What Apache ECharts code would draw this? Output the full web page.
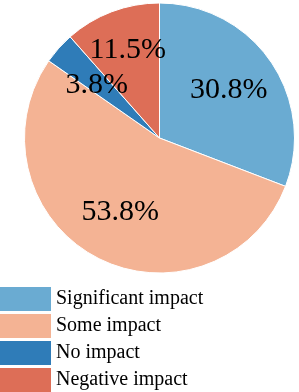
<!DOCTYPE html>
<html><head><meta charset="utf-8">
<script src="https://cdn.jsdelivr.net/npm/echarts@6/dist/echarts.min.js"></script>
<style>html,body{margin:0;padding:0;background:#fff}#c{width:299px;height:392px}</style>
</head><body><div id="c"></div>
<script>
const categories = ['Significant impact', 'Some impact', 'No impact', 'Negative impact'];
const percentages = [30.8, 53.8, 3.8, 11.5];
const colors = ['#6aabd2', '#f4b394', '#2f7cb8', '#dd6e57'];

const chart = echarts.init(document.getElementById('c'), null, {renderer: 'canvas'});
const serif = "'Liberation Serif', 'Times New Roman', serif";
const data = categories.map((n, i) => ({name: n, value: percentages[i], itemStyle: {color: colors[i]}}));
const labelData = categories.map((n, i) => ({name: n, value: percentages[i]}));
labelData[3].label = {offset: [-2, -9]};
labelData[2].label = {offset: [0, 3]};

chart.setOption({
  animation: false,
  textStyle: {fontFamily: serif},
  legend: {
    orient: 'vertical', left: 0, top: 287, height: 200, padding: 0,
    itemWidth: 51, itemHeight: 24, itemGap: 3,
    icon: 'rect',
    itemStyle: {borderWidth: 0},
    data: categories,
    textStyle: {fontFamily: serif, fontSize: 20, lineHeight: 20, color: '#000'}
  },
  series: [{
    type: 'pie', center: [159.5, 138], radius: [0, 135], startAngle: 90, clockwise: true,
    data: data, label: {show: false}, labelLine: {show: false},
    itemStyle: {borderColor: '#fff', borderWidth: 1},
    emphasis: {disabled: true}
  }, {
    type: 'pie', center: [159.5, 138], radius: [27, 135], startAngle: 90, clockwise: true,
    data: labelData, silent: true, legendHoverLink: false,
    itemStyle: {color: 'rgba(0,0,0,0)', borderWidth: 0},
    label: {show: true, position: 'inside', formatter: '{c}%', fontFamily: serif, fontSize: 30, color: '#000'},
    labelLine: {show: false},
    emphasis: {disabled: true}
  }]
});
</script></body></html>
